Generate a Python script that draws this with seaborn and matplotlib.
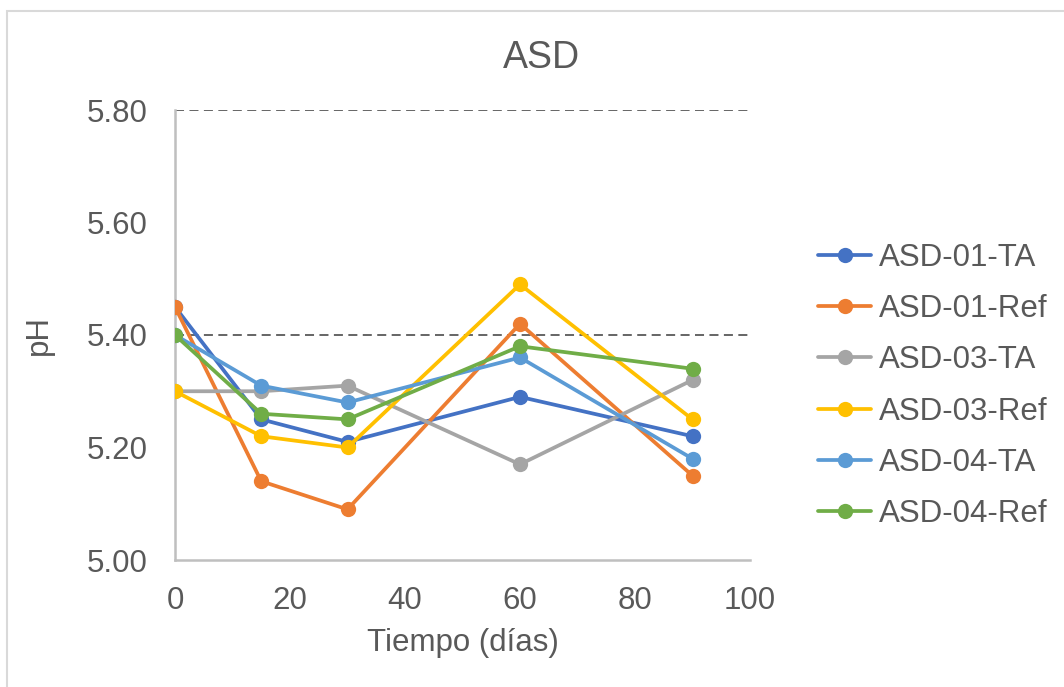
import matplotlib
matplotlib.use("Agg")
import matplotlib.pyplot as plt
import seaborn as sns
import pandas as pd
from matplotlib.patches import Rectangle
from matplotlib.lines import Line2D

# ---- data ----
dias = [0, 15, 30, 60, 90]
series = ["ASD-01-TA", "ASD-01-Ref", "ASD-03-TA", "ASD-03-Ref", "ASD-04-TA", "ASD-04-Ref"]
asd01_ta = [5.45, 5.25, 5.21, 5.29, 5.22]
asd01_ref = [5.45, 5.14, 5.09, 5.42, 5.15]
asd03_ta = [5.30, 5.30, 5.31, 5.17, 5.32]
asd03_ref = [5.30, 5.22, 5.20, 5.49, 5.25]
asd04_ta = [5.40, 5.31, 5.28, 5.36, 5.18]
asd04_ref = [5.40, 5.26, 5.25, 5.38, 5.34]
colores = ["#4472C4", "#ED7D31", "#A5A5A5", "#FFC000", "#5B9BD5", "#70AD47"]
x_ticks = [0, 20, 40, 60, 80, 100]
y_ticks = [5.00, 5.20, 5.40, 5.60, 5.80]
y_grid = [5.40, 5.80]

valores = [asd01_ta, asd01_ref, asd03_ta, asd03_ref, asd04_ta, asd04_ref]
rows = []
for s, vals in zip(series, valores):
    for d, v in zip(dias, vals):
        rows.append({"Tiempo": d, "pH": v, "Serie": s})
df = pd.DataFrame(rows)

sns.set_theme(style="white")
plt.rcParams["font.family"] = ["Liberation Sans", "DejaVu Sans"]

W, H = 1064, 687
fig = plt.figure(figsize=(W / 100, H / 100), dpi=100)
fig.patch.set_facecolor("white")

# outer chart frame
fig.patches.append(Rectangle((7 / W, -0.01), 1.02, 1 - 11 / H + 0.01, transform=fig.transFigure,
                             fill=False, edgecolor="#D9D9D9", linewidth=1.5, zorder=0))

ax = fig.add_axes([175 / W, 1 - 560 / H, 575 / W, 450 / H])
ax.set_facecolor("white")

for g in y_grid:
    ax.axhline(g, color="#595959", linestyle=(0, (5, 3)), linewidth=1.3, zorder=1)

palette = dict(zip(series, colores))
sns.lineplot(data=df, x="Tiempo", y="pH", hue="Serie", hue_order=series, palette=palette,
             marker="o", markersize=11, markeredgewidth=0, linewidth=2.7, ax=ax,
             legend=False, zorder=3)

ax.set_xlim(0, 100)
ax.set_ylim(5.0, 5.8)
ax.set_xticks(x_ticks)
ax.set_yticks(y_ticks)
ax.set_yticklabels([f"{v:.2f}" for v in y_ticks])
ax.tick_params(axis="both", length=0, labelsize=22.5, colors="#595959")
ax.tick_params(axis="y", pad=20)
ax.tick_params(axis="x", pad=19)

for side in ["top", "right"]:
    ax.spines[side].set_visible(False)
for side in ["left", "bottom"]:
    ax.spines[side].set_color("#BFBFBF")
    ax.spines[side].set_linewidth(1.8)

ax.set_xlabel("Tiempo (días)", fontsize=22.5, color="#595959")
ax.set_ylabel("pH", fontsize=22.5, color="#595959")
ax.xaxis.set_label_coords(0.5, -0.152)
ax.yaxis.set_label_coords(-0.21, 0.5)

ax.set_title("ASD", fontsize=27, color="#595959", pad=30, x=(541 - 175) / 575)

handles = [Line2D([0], [0], color=c, marker="o", markersize=11, markeredgewidth=0, linewidth=2.7)
           for c in colores]
leg = ax.legend(handles, series, loc="center left", bbox_to_anchor=(818 / W, 1 - 386 / H),
                bbox_transform=fig.transFigure, frameon=False, fontsize=22.5,
                handlelength=1.7, handletextpad=0.25, labelspacing=0.68,
                borderpad=0, borderaxespad=0)
for t in leg.get_texts():
    t.set_color("#595959")

fig.savefig("out.png", dpi=100, facecolor="white")
